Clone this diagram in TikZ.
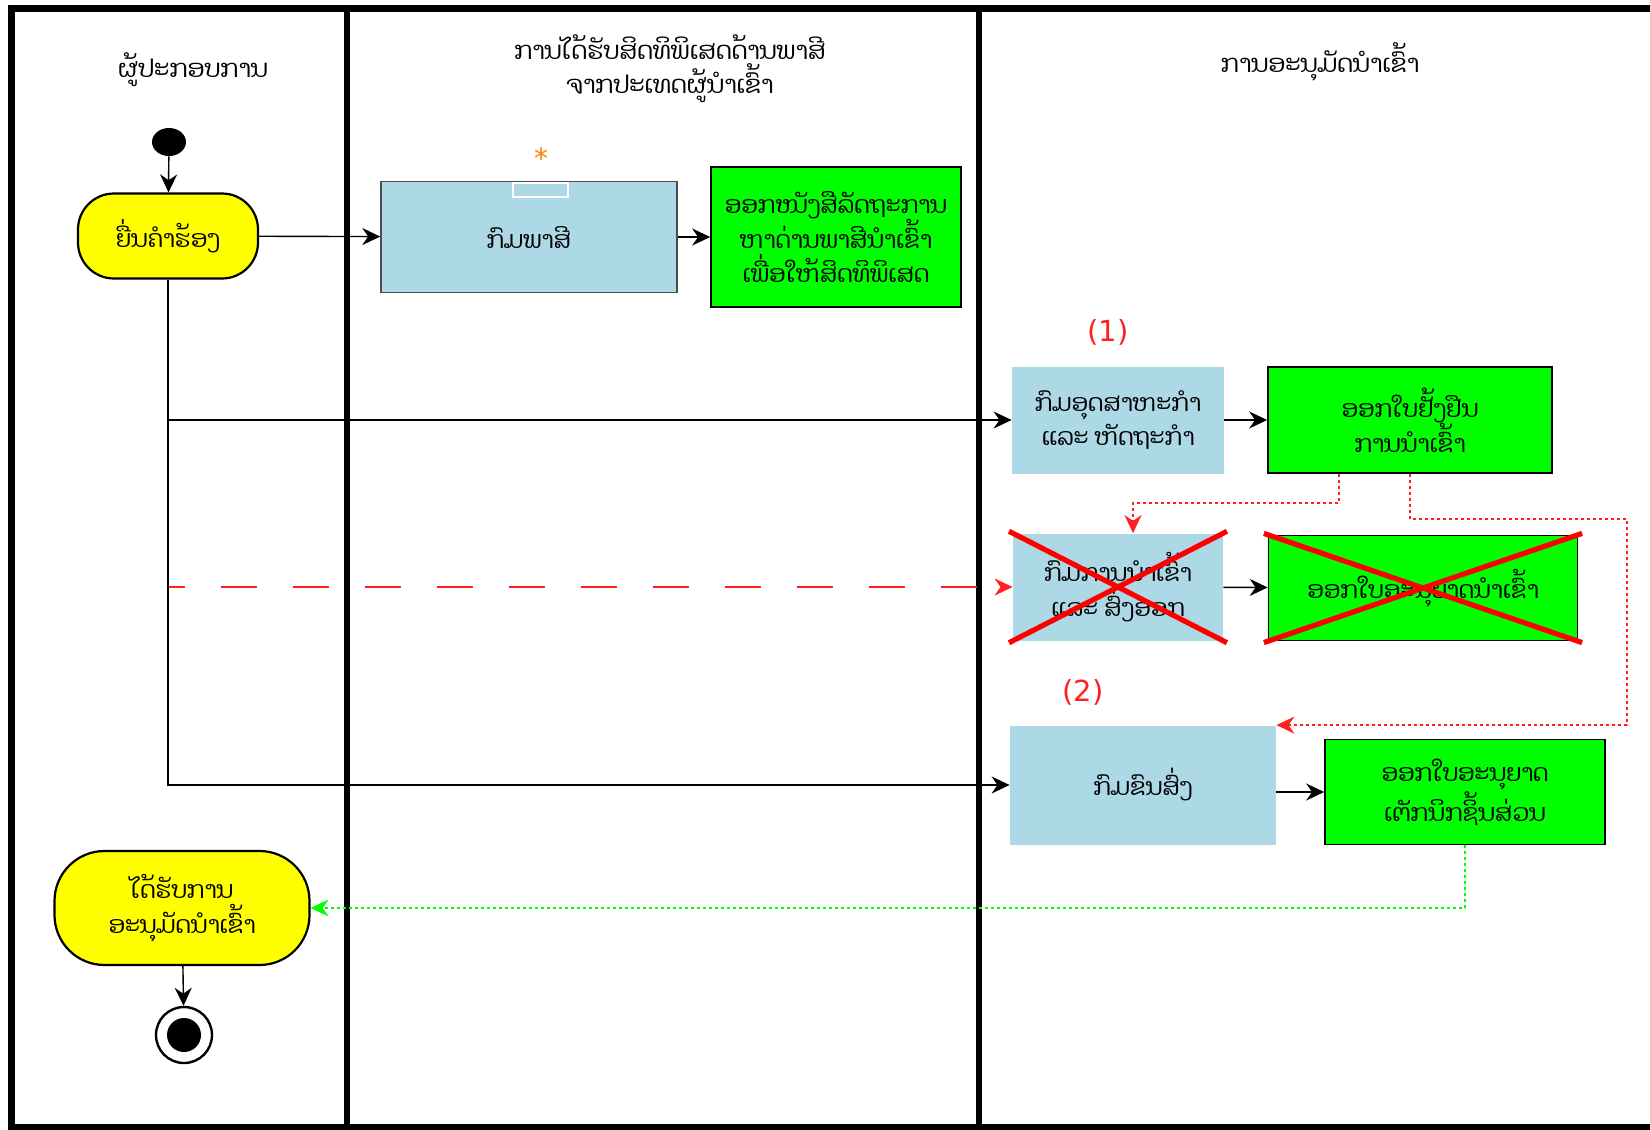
\documentclass[tikz,border=0pt]{standalone}
\usepackage{fontspec}
\usepackage{xcolor}
\usetikzlibrary{arrows.meta,positioning,shapes.geometric}
\newfontfamily\laofont[Script=Lao]{Dhyana}
\newfontfamily\numfont{DejaVu Sans}
\definecolor{laneblue}{HTML}{ADD8E6}
\definecolor{docgreen}{HTML}{00FF00}
\definecolor{pillyellow}{HTML}{FFFF00}
\definecolor{notered}{HTML}{FF2020}

\tikzset{
  laotext/.style={font=\laofont\fontsize{12}{17.4}\selectfont, align=center},
  lanetitle/.style={font=\laofont\fontsize{12.3}{16.8}\selectfont, align=center},
  pill/.style={laotext, draw, line width=1.1pt, fill=pillyellow, rounded corners=18pt},
  dept/.style={laotext, fill=laneblue},
  docbox/.style={laotext, draw, line width=0.8pt, fill=docgreen},
  flow/.style={-{Stealth[length=9pt,width=8.5pt]}, line width=0.7pt},
  redflow/.style={-{Stealth[length=9pt,width=8.5pt]}, notered, line width=0.8pt, dash pattern=on 18pt off 18pt},
  reddot/.style={-{Stealth[length=9pt,width=8.5pt]}, notered, line width=0.9pt, dash pattern=on 1.5pt off 1.5pt},
  greendot/.style={-{Stealth[length=9pt,width=8.5pt]}, docgreen, line width=0.9pt, dash pattern=on 1.5pt off 1.5pt},
  crossout/.style={red, line width=2.6pt, shorten <=-2pt, shorten >=-2pt},
}

\begin{document}
\begin{tikzpicture}[x=0.5pt, y=-0.5pt]
  \useasboundingbox (0,0) rectangle (1650,1130);

  % lanes
  \draw[line width=3.5pt] (1650,8) -- (11,8) -- (11,1127) -- (1650,1127);
  \draw[line width=2.6pt] (347,8) -- (347,1127);
  \draw[line width=2.6pt] (979,8) -- (979,1127);
  \node[lanetitle] (lane1) at (193,70) {ຜູ້ປະກອບການ};
  \node[lanetitle] (lane2) at (670,69) {ການໄດ້ຮັບສິດທິພິເສດດ້ານພາສີ\\ຈາກປະເທດຜູ້ນຳເຂົ້າ};
  \node[lanetitle] (lane3) at (1320,62) {ການອະນຸມັດນຳເຂົ້າ};

  % nodes
  \node[ellipse, fill=black, minimum width=17pt, minimum height=14pt, inner sep=0pt] (start) at (169,142) {};
  \node[pill, minimum width=90pt, minimum height=42.5pt] (apply) at (168,236) {ຍື່ນຄຳຮ້ອງ};
  \node[dept, draw=black!70, line width=0.7pt, minimum width=148pt, minimum height=55.5pt] (customs) at (529,237) {ກົມພາສີ};
  \draw[white, line width=0.8pt] (513,183) rectangle (568,197);
  \node[text=orange, font=\numfont\fontsize{14}{14}\selectfont] (star) at (541,158) {*};
  \node[docbox, minimum width=125pt, minimum height=70pt] (letter) at (836,237) {ອອກໜັງສືລັດຖະການ\\ຫາດ່ານພາສີນຳເຂົ້າ\\ເພື່ອໃຫ້ສິດທິພິເສດ};

  \node[text=notered, font=\numfont\fontsize{14.5}{14.5}\selectfont] (mark1) at (1108,332) {(1)};
  \node[dept, minimum width=106pt, minimum height=53.5pt] (industry) at (1118,420) {ກົມອຸດສາຫະກຳ\\ແລະ ຫັດຖະກຳ};
  \node[docbox, minimum width=142pt, minimum height=53pt] (cert) at (1410,420) {ອອກໃບຢັ້ງຢືນ\\ການນຳເຂົ້າ};
  \node[dept, minimum width=105pt, minimum height=53.5pt] (importdep) at (1118,587) {ກົມການນຳເຂົ້າ\\ແລະ ສົ່ງອອກ};
  \node[docbox, minimum width=154.5pt, minimum height=52.5pt] (permit) at (1423,588) {ອອກໃບອະນຸຍາດນຳເຂົ້າ};
  \node[text=notered, font=\numfont\fontsize{14.5}{14.5}\selectfont] (mark2) at (1083,692) {(2)};
  \node[dept, minimum width=133pt, minimum height=59.5pt] (transport) at (1143,785) {ກົມຂົນສົ່ງ};
  \node[docbox, minimum width=140pt, minimum height=52.5pt] (tech) at (1465,792) {ອອກໃບອະນຸຍາດ\\ເຕັກນິກຊິ້ນສ່ວນ};

  \node[pill, rounded corners=25pt, minimum width=127.5pt, minimum height=57pt] (finish) at (182,908) {ໄດ້ຮັບການ\\ອະນຸມັດນຳເຂົ້າ};
  \node[circle, draw, line width=1.2pt, fill=white, minimum size=28pt, inner sep=0pt] (stop) at (184,1035) {};
  \fill (stop) circle (8.5pt);

  % arrows
  \draw[redflow] (apply.south) |- (importdep.west);
  \draw[flow] (start) -- (apply);
  \draw[flow] (apply) -- (customs);
  \draw[flow] (customs) -- (letter);
  \draw[flow] (apply.south) |- (industry.west);
  \draw[flow] (apply.south) |- (transport.west);
  \draw[flow] (industry) -- (cert);
  \draw[flow] (importdep) -- (permit);
  \draw[flow] (transport.east |- tech.west) -- (tech.west);
  \draw[flow] (finish) -- (stop);

  \coordinate (turn1) at (1339,503);
  \coordinate (turn2) at (1627,519);
  \draw[reddot] (cert.south -| turn1) -- (turn1) -| ([xshift=7.5pt]importdep.north);
  \draw[reddot] (cert.south) |- (turn2) |- (transport.north east);
  \draw[greendot] (tech.south) |- (finish.east);

  % crossed out
  \draw[crossout] (importdep.north west) -- (importdep.south east);
  \draw[crossout] (importdep.south west) -- (importdep.north east);
  \draw[crossout] (permit.north west) -- (permit.south east);
  \draw[crossout] (permit.south west) -- (permit.north east);
\end{tikzpicture}
\end{document}
